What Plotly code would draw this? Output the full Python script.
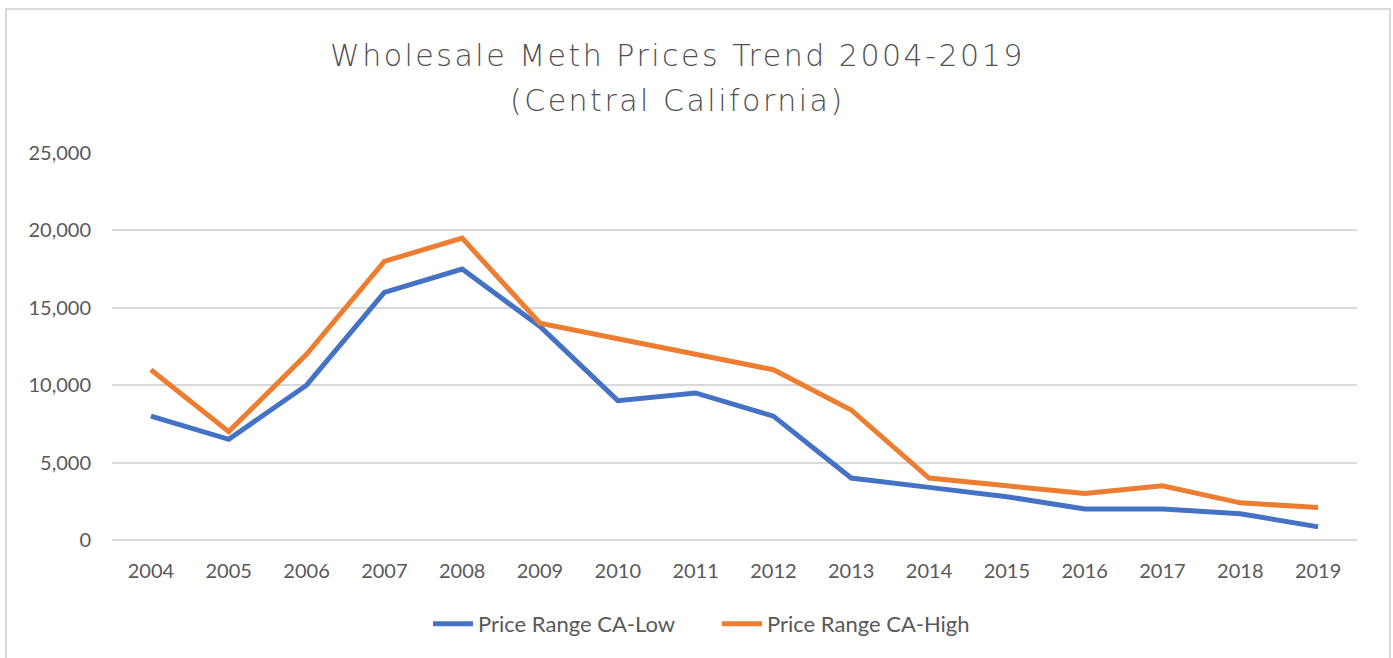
import plotly.graph_objects as go

years = [str(y) for y in range(2004, 2020)]
low = [8000, 6500, 10000, 16000, 17500, 13800, 9000, 9500, 8000, 4000, 3400, 2800, 2000, 2000, 1700, 850]
high = [11000, 7000, 12000, 18000, 19500, 14000, 13000, 12000, 11000, 8400, 4000, 3500, 3000, 3500, 2400, 2100]
y_ticks = [0, 5000, 10000, 15000, 20000, 25000]
y_labels = ["0", "5,000", "10,000", "15,000", "20,000", "25,000"]

fig = go.Figure()
fig.add_trace(go.Scatter(x=years, y=low, mode="lines", name="Price Range CA-Low",
                         line=dict(color="#4472C4", width=5)))
fig.add_trace(go.Scatter(x=years, y=high, mode="lines", name="Price Range CA-High",
                         line=dict(color="#ED7D31", width=5)))

W, H = 1393, 658
L, T = 112, 153
R = W - 1357
B = H - 540
pw = W - L - R
ph = H - T - B

def px_x(p):
    return (p - L) / pw

def px_y(p):
    return (H - B - p) / ph

ls = "letter-spacing:2.5px"
fig.update_layout(
    width=W, height=H,
    margin=dict(l=L, r=R, t=T, b=B),
    paper_bgcolor="white", plot_bgcolor="white",
    font=dict(family="Lato", size=20, color="#595959"),
    showlegend=True,
    legend=dict(orientation="h", x=px_x(717), xanchor="center", y=px_y(624), yanchor="middle",
                font=dict(size=22, color="#595959"), itemwidth=40, tracegroupgap=0,
                entrywidth=234),
    xaxis=dict(type="category", range=[-0.5, 15.5], showgrid=False, showline=False,
               ticks="", tickfont=dict(size=20, color="#595959"), ticklabelstandoff=17,
               fixedrange=True),
    yaxis=dict(range=[0, 25000], tickvals=y_ticks, ticktext=y_labels,
               showgrid=True, gridcolor="#d9d9d9", gridwidth=1.5, zeroline=True,
               zerolinecolor="#d9d9d9", zerolinewidth=1.5, showline=False, ticks="",
               tickfont=dict(size=20, color="#595959"), ticklabelstandoff=20),
    annotations=[
        dict(text=f'<span style="{ls}">Wholesale Meth Prices Trend 2004-2019</span>',
             xref="paper", yref="paper", x=px_x(677.5), y=px_y(55), xanchor="center",
             yanchor="middle", showarrow=False,
             font=dict(family="DejaVu Sans", size=30, color="#505050", weight=200)),
        dict(text=f'<span style="{ls}">(Central California)</span>',
             xref="paper", yref="paper", x=px_x(677.5), y=px_y(100), xanchor="center",
             yanchor="middle", showarrow=False,
             font=dict(family="DejaVu Sans", size=30, color="#505050", weight=200)),
    ],
    shapes=[dict(type="rect", xref="paper", yref="paper",
                 x0=px_x(6), x1=px_x(1390), y0=px_y(700), y1=px_y(9),
                 line=dict(color="#d9d9d9", width=2), fillcolor="rgba(0,0,0,0)",
                 layer="below")],
)

fig.write_html("out.html", config={"displayModeBar": False},
               post_script="document.body.style.margin='0';document.body.style.overflow='hidden';")
